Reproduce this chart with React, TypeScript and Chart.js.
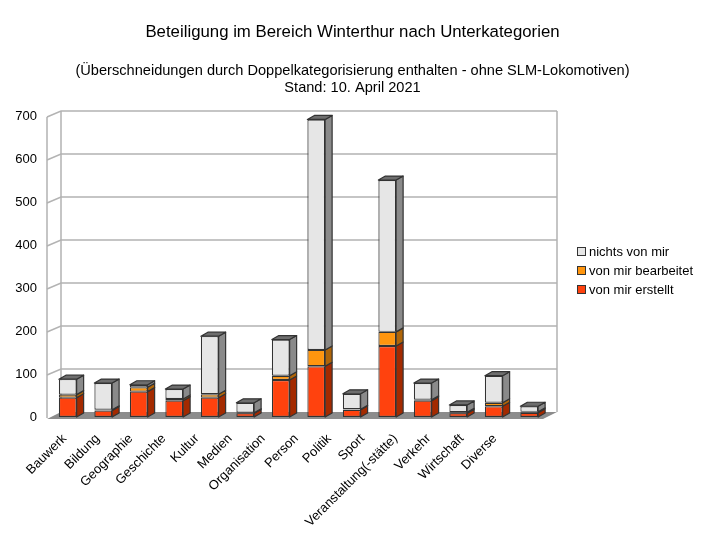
import React, { useEffect, useRef } from "react";
import { Chart, registerables } from "chart.js";

Chart.register(...registerables);

const categories = [
  "Bauwerk",
  "Bildung",
  "Geographie",
  "Geschichte",
  "Kultur",
  "Medien",
  "Organisation",
  "Person",
  "Politik",
  "Sport",
  "Veranstaltung(-stätte)",
  "Verkehr",
  "Wirtschaft",
  "Diverse",
];
const vonMirErstellt = [45, 15, 59, 38, 45, 9, 86, 118, 17, 165, 38, 9, 25, 10];
const vonMirBearbeitet = [7, 2, 10, 4, 8, 1, 10, 38, 1, 33, 2, 2, 8, 2];
const nichtsVonMir = [36, 62, 6, 23, 135, 23, 84, 536, 36, 353, 39, 17, 63, 13];
const yTicks = [0, 100, 200, 300, 400, 500, 600, 700];

const titleText = "Beteiligung im Bereich Winterthur nach Unterkategorien";
const subtitleLines = [
  "(Überschneidungen durch Doppelkategorisierung enthalten - ohne SLM-Lokomotiven)",
  "Stand: 10. April 2021",
];
const seriesNames = ["von mir erstellt", "von mir bearbeitet", "nichts von mir"];

const FONT = "'Liberation Sans', Arial, sans-serif";
const front = ["#ff420e", "#ff950e", "#e6e6e6"];
const side = ["#a32a00", "#b06508", "#8a8a8a"];
const top = ["#c43300", "#d97c0a", "#6e6e6e"];

// label axis (projected front edge of the 3D floor)
const LABEL_LEFT = 48;
const LABEL_RIGHT = 511.5;

const frame3d = {
  id: "frame3d",
  afterLayout(chart: any) {
    const s = chart.scales.xl;
    if (!s) return;
    s.left = LABEL_LEFT;
    s.right = LABEL_RIGHT;
    s.width = LABEL_RIGHT - LABEL_LEFT;
    s.configure();
    s._labelItems = null;
  },
  beforeDatasetsDraw(chart: any) {
    const { ctx, chartArea, scales } = chart;
    const y = scales.y;
    const fx0 = chartArea.left - 3;
    const fx1 = chartArea.right - 4;
    const DX = 14;
    const DY = 6;
    const y0 = y.getPixelForValue(0) + 1;
    const yTop = y.getPixelForValue(700) + 1;
    ctx.save();
    ctx.fillStyle = "#8c8c8c";
    ctx.beginPath();
    ctx.moveTo(fx0, y0 + 1);
    ctx.lineTo(fx1, y0 + 1);
    ctx.lineTo(fx1 + DX, y0 - DY);
    ctx.lineTo(fx0 + DX, y0 - DY);
    ctx.closePath();
    ctx.fill();
    ctx.strokeStyle = "#b3b3b3";
    ctx.lineWidth = 1.5;
    for (const v of yTicks) {
      if (v === 0) continue;
      const py = y.getPixelForValue(v) + 1;
      ctx.beginPath();
      ctx.moveTo(fx0, py);
      ctx.lineTo(fx0 + DX, py - DY);
      ctx.lineTo(fx1 + DX, py - DY);
      ctx.stroke();
    }
    ctx.beginPath();
    ctx.moveTo(fx0, y0);
    ctx.lineTo(fx0, yTop);
    ctx.moveTo(fx0 + DX, y0 - DY);
    ctx.lineTo(fx0 + DX, yTop - DY);
    ctx.moveTo(fx1 + DX, y0 - DY);
    ctx.lineTo(fx1 + DX, yTop - DY);
    ctx.stroke();
    ctx.restore();
  },
  afterDatasetsDraw(chart: any) {
    const { ctx } = chart;
    const dx = 7;
    const dy = 4;
    const n = chart.data.labels.length;
    const topIdx: number[] = new Array(n).fill(-1);
    chart.data.datasets.forEach((ds: any, di: number) => {
      ds.data.forEach((v: number, i: number) => {
        if (v > 0) topIdx[i] = di;
      });
    });
    ctx.save();
    ctx.lineWidth = 1.2;
    ctx.strokeStyle = "#333333";
    ctx.lineJoin = "round";
    chart.data.datasets.forEach((ds: any, di: number) => {
      const meta = chart.getDatasetMeta(di);
      meta.data.forEach((bar: any, i: number) => {
        const p = bar.getProps(["x", "y", "base", "width"], true);
        const r = p.x + p.width / 2;
        const l = p.x - p.width / 2;
        const yt = Math.min(p.y, p.base);
        const yb = Math.max(p.y, p.base);
        if (yb - yt < 0.01) return;
        ctx.fillStyle = side[di];
        ctx.beginPath();
        ctx.moveTo(r, yb);
        ctx.lineTo(r, yt);
        ctx.lineTo(r + dx, yt - dy);
        ctx.lineTo(r + dx, yb - dy);
        ctx.closePath();
        ctx.fill();
        ctx.stroke();
        if (topIdx[i] === di) {
          ctx.fillStyle = top[di];
          ctx.beginPath();
          ctx.moveTo(l, yt);
          ctx.lineTo(l + dx, yt - dy);
          ctx.lineTo(r + dx, yt - dy);
          ctx.lineTo(r, yt);
          ctx.closePath();
          ctx.fill();
          ctx.stroke();
        }
      });
    });
    ctx.restore();
  },
  afterDraw(chart: any) {
    const { ctx } = chart;
    ctx.save();
    ctx.fillStyle = "#000000";
    ctx.textAlign = "center";
    ctx.textBaseline = "alphabetic";
    ctx.font = `16.8px ${FONT}`;
    ctx.fillText(titleText, 352.5, 36.5);
    ctx.font = `14.6px ${FONT}`;
    ctx.fillText(subtitleLines[0], 352.5, 75);
    ctx.fillText(subtitleLines[1], 352.5, 91.5);
    const rows = [2, 1, 0];
    const ys = [252, 271, 290];
    ctx.textAlign = "left";
    ctx.textBaseline = "middle";
    ctx.font = `13px ${FONT}`;
    rows.forEach((di, k) => {
      ctx.fillStyle = front[di];
      ctx.fillRect(577.5, ys[k] - 4.5, 8, 8);
      ctx.strokeStyle = "#333333";
      ctx.lineWidth = 1;
      ctx.strokeRect(577.5, ys[k] - 4.5, 8, 8);
      ctx.fillStyle = "#000000";
      ctx.fillText(seriesNames[di], 589, ys[k]);
    });
    ctx.restore();
  },
};

export default function App() {
  const ref = useRef<HTMLCanvasElement>(null);
  useEffect(() => {
    document.body.style.margin = "0";
    const chart = new Chart(ref.current!, {
      type: "bar",
      data: {
        labels: categories,
        datasets: [
          { label: seriesNames[0], data: vonMirErstellt, backgroundColor: front[0] },
          { label: seriesNames[1], data: vonMirBearbeitet, backgroundColor: front[1] },
          { label: seriesNames[2], data: nichtsVonMir, backgroundColor: front[2] },
        ].map((d) => ({
          ...d,
          xAxisID: "x",
          borderColor: "#333333",
          borderWidth: 1.2,
          borderSkipped: false as any,
          barPercentage: 0.5,
          categoryPercentage: 1,
        })),
      },
      options: {
        responsive: false,
        animation: false,
        devicePixelRatio: 1,
        layout: { padding: { left: 6, top: 116, right: 158, bottom: 0 } },
        plugins: {
          legend: { display: false },
          title: { display: false },
          tooltip: { enabled: false },
        },
        scales: {
          x: {
            stacked: true,
            display: false,
          },
          xl: {
            type: "category",
            position: "bottom",
            labels: categories,
            offset: true,
            grid: { display: false, drawTicks: false },
            border: { display: false },
            ticks: {
              color: "#000000",
              font: { family: FONT, size: 13 },
              minRotation: 45,
              maxRotation: 45,
              autoSkip: false,
              padding: 14,
            },
            afterFit(scale: any) {
              scale.height = 123;
            },
          },
          y: {
            stacked: true,
            min: 0,
            max: 700,
            grid: { display: false, drawTicks: false },
            border: { display: false },
            ticks: {
              stepSize: 100,
              color: "#000000",
              font: { family: FONT, size: 13 },
              padding: 13,
            },
            afterFit(scale: any) {
              scale.width = 44;
            },
          },
        } as any,
      },
      plugins: [frame3d],
    });
    return () => chart.destroy();
  }, []);
  return (
    <canvas
      ref={ref}
      width={705}
      height={540}
      style={{ position: "absolute", left: 0, top: 0, width: 705, height: 540 }}
    />
  );
}
